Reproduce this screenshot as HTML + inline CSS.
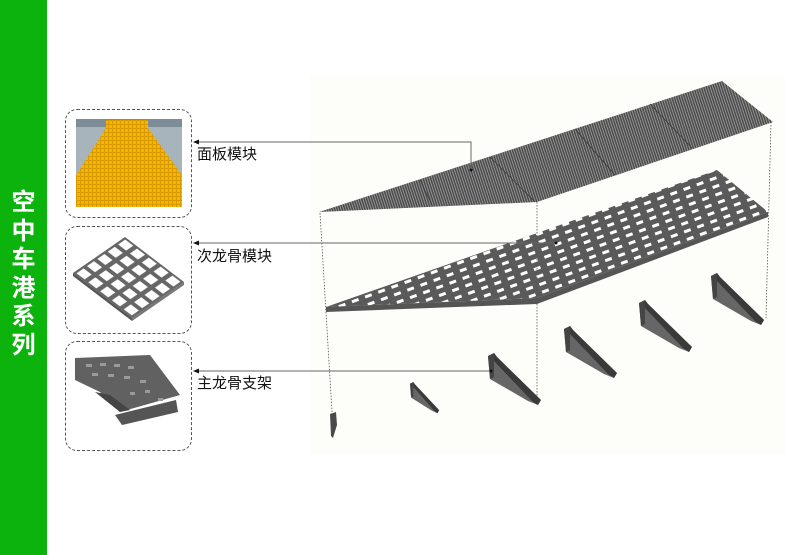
<!DOCTYPE html>
<html><head><meta charset="utf-8"><style>
html,body{margin:0;padding:0;background:#fff;}
body{width:800px;height:555px;position:relative;overflow:hidden;font-family:"Liberation Sans","Noto Sans CJK SC",sans-serif;}
.side{position:absolute;left:0;top:0;width:47px;height:555px;background:#0db30d;}
.vt{position:absolute;left:0;width:47px;top:186px;color:#fff;font-weight:bold;font-size:24px;line-height:28.5px;text-align:center;font-family:"Noto Sans CJK SC",sans-serif;}
.box{position:absolute;left:65px;width:125px;border:1.3px dashed #555;border-radius:12px;}
.lbl{position:absolute;left:197px;font-size:15px;color:#111;font-family:"Noto Sans CJK SC",sans-serif;}
</style></head><body>
<div class="side"></div>
<div class="vt">空<br>中<br>车<br>港<br>系<br>列</div>
<div class="box" style="top:109px;height:107px"></div>
<div class="box" style="top:226px;height:106px"></div>
<div class="box" style="top:341px;height:108px"></div>
<div class="lbl" style="top:143px">面板模块</div>
<div class="lbl" style="top:245px">次龙骨模块</div>
<div class="lbl" style="top:372px">主龙骨支架</div>
<svg width="800" height="555" style="position:absolute;left:0;top:0">
<defs>
<pattern id="st" width="2.4" height="10" patternUnits="userSpaceOnUse" patternTransform="rotate(-18)">
<rect width="2.4" height="10" fill="#4a4a4a"/><rect width="0.9" height="10" fill="#9a9a9a"/></pattern>
<pattern id="gh" width="14" height="8" patternUnits="userSpaceOnUse" patternTransform="rotate(-20)">
<rect width="14" height="8" fill="#5a5a5a"/><rect x="3.5" y="2.5" width="7" height="3" fill="#fff"/></pattern>
<pattern id="yg" width="4" height="4" patternUnits="userSpaceOnUse">
<rect width="4" height="4" fill="#f2b705"/><rect width="4" height="1" fill="#d89a00"/><rect width="1" height="4" fill="#d89a00"/></pattern>
<pattern id="tg" width="1" height="1" patternUnits="userSpaceOnUse" patternTransform="matrix(10.4,-7.2,11.8,9,73,273)">
<rect width="1" height="1" fill="#666"/><rect x="0.16" y="0.16" width="0.68" height="0.68" fill="#fff"/></pattern>
<g id="br"><polygon points="0,3 6,0 9,4 53,47 50,52 40,48 2,26" fill="#666"/><polygon points="6,0 9,4 53,47 50,52 44,48 6,8" fill="#3a3a3a"/><polygon points="0,3 6,0 6,24 2,26" fill="#444"/></g>
</defs>
<rect x="310" y="75" width="475" height="380" fill="#fdfdf9"/>
<polygon points="319,212 722,81 773,122 537,202" fill="url(#st)"/>
<line x1="420" y1="180" x2="432" y2="205" stroke="#333" stroke-width="0.6"/>
<line x1="490" y1="157" x2="535" y2="202" stroke="#333" stroke-width="0.6"/>
<line x1="575" y1="129" x2="615" y2="175" stroke="#333" stroke-width="0.6"/>
<line x1="650" y1="104" x2="692" y2="148" stroke="#333" stroke-width="0.6"/>
<polygon points="326,307 717,170 768,212 537,298" fill="url(#gh)"/>
<polygon points="326,307 537,298 768,212 768,217 537,304 326,312" fill="#555"/>
<g stroke="#555" stroke-width="0.8" stroke-dasharray="1.5,1.5" fill="none">
<line x1="320" y1="213" x2="332" y2="412"/>
<line x1="537" y1="202" x2="537" y2="405"/>
<line x1="771" y1="122" x2="766" y2="318"/>
</g>
<polygon points="330,414 336,412 337,425 333,438 331,436" fill="#4a4a4a"/>
<use href="#br" transform="translate(410,382) scale(0.55,0.6)"/>
<use href="#br" transform="translate(488,353)"/>
<use href="#br" transform="translate(564,326)"/>
<use href="#br" transform="translate(639,300)"/>
<use href="#br" transform="translate(711,273)"/>
<g stroke="#666" stroke-width="1" fill="none">
<polyline points="196,142 471,142 471,170"/>
<line x1="196" y1="243" x2="556" y2="243"/>
<line x1="196" y1="371" x2="491" y2="371"/>
</g>
<g fill="#111"><polygon points="193,142 199,139.5 199,144.5"/><polygon points="193,243 199,240.5 199,245.5"/><polygon points="193,371 199,368.5 199,373.5"/>
<circle cx="471" cy="170" r="1.5"/><circle cx="556" cy="243" r="1.5"/><circle cx="491" cy="371" r="1.5"/></g>
<rect x="76" y="119" width="106" height="88" fill="#a8b4bc"/>
<rect x="76" y="119" width="106" height="8" fill="#7d8d98"/>
<polygon points="106,120 148,120 148,128 182,175 182,207 76,207 76,175 106,128" fill="url(#yg)"/>
<polygon points="73,273 125,237 184,282 132,318" fill="url(#tg)"/>
<polygon points="73,273 132,318 132,321 73,276" fill="#555"/>
<polygon points="132,318 184,282 184,285 132,321" fill="#777"/>
<polygon points="75,358 150,355 180,395 120,412 100,392 75,380" fill="#616161"/>
<polygon points="95,392 120,412 130,410 110,395" fill="#444"/>
<polygon points="115,415 176,400 178,412 122,425" fill="#555"/>
<g fill="#9a9a9a"><rect x="86" y="364" width="6" height="3"/><rect x="100" y="363" width="6" height="3"/><rect x="114" y="364" width="6" height="3"/><rect x="128" y="366" width="6" height="3"/><rect x="92" y="373" width="6" height="3"/><rect x="108" y="374" width="6" height="3"/><rect x="124" y="376" width="6" height="3"/><rect x="140" y="380" width="6" height="3"/><rect x="130" y="392" width="5" height="3"/><rect x="145" y="390" width="5" height="3"/><rect x="158" y="398" width="5" height="3"/></g>
</svg>
</body></html>
